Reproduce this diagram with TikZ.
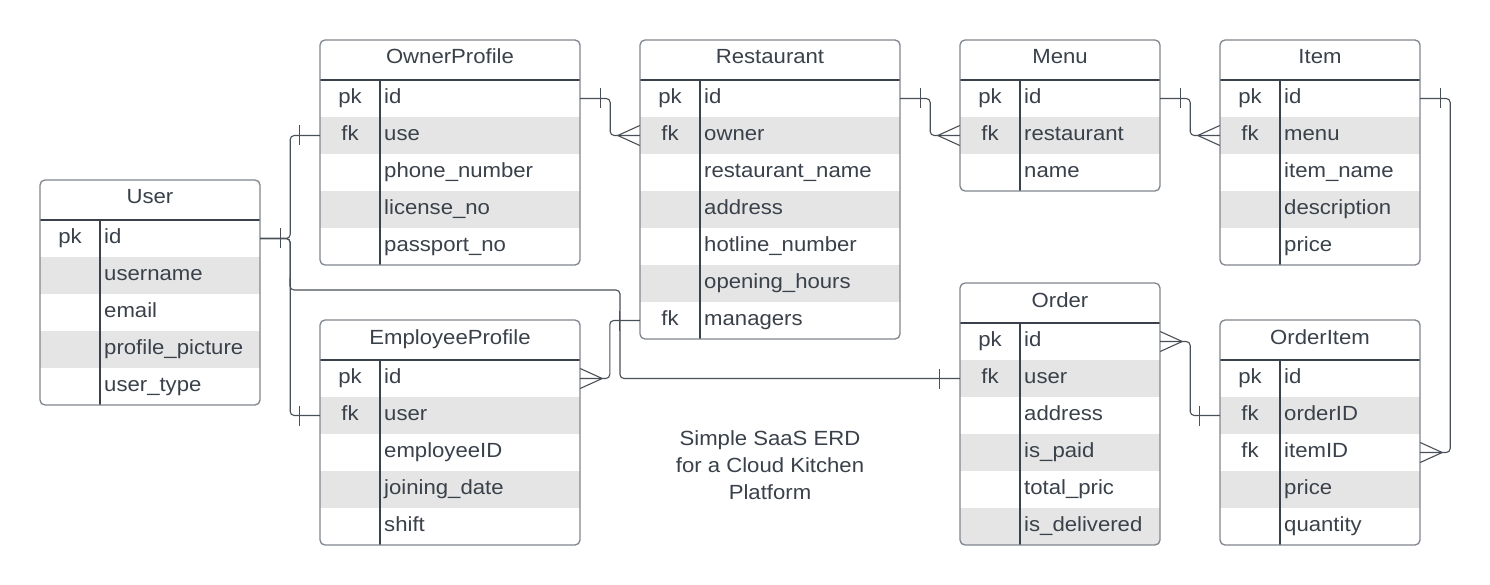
\documentclass[tikz,border=0pt]{standalone}
\usepackage{fontspec}
\setmainfont{Liberation Sans}[FakeStretch=1.08]
\usetikzlibrary{calc}
\definecolor{ink}{HTML}{3A414A}
\definecolor{rowgray}{HTML}{E5E5E5}
\definecolor{edgecol}{HTML}{80868E}
\definecolor{wire}{HTML}{4A5058}
\tikzset{
  txt/.style={inner sep=0pt, text=ink, font=\fontsize{20.5}{24}\selectfont},
  rowfill/.style={inner sep=0pt, draw=none, minimum height=37pt},
  shade1/.style={fill=white},
  shade0/.style={fill=rowgray},
  conn/.style={draw=wire, line width=1.1pt, rounded corners=4pt},
  tick/.style={draw=wire, line width=1.1pt},
  inner/.style={draw=ink, line width=1.2pt},
  outline/.style={draw=edgecol, line width=1.3pt, rounded corners=5pt},
}
\newcommand\erdtab[7]{%
  \pgfmathsetmacro\tabH{40+37*#5}
  \begin{scope}
    \clip[rounded corners=5pt] (#2,#3) rectangle ++(#4,\tabH);
    \fill[white] (#2,#3) rectangle ++(#4,\tabH);
    \foreach \k/\f [count=\i] in {#7} {
      \pgfmathsetmacro\yc{#3+40+(\i-0.5)*37}
      \pgfmathtruncatemacro\rp{mod(\i,2)}
      \node[rowfill, shade\rp, minimum width=#4] (#1-\i) at (#2+#4/2,\yc) {};
    }
  \end{scope}
  \foreach \k/\f [count=\i] in {#7} {
    \pgfmathsetmacro\yc{#3+40+(\i-0.5)*37+4.7}
    \node[txt, anchor=base] (#1-\i-k) at (#2+30,\yc) {\k};
    \node[txt, anchor=base west] (#1-\i-f) at (#2+64,\yc) {\f};
  }
  \node[txt, anchor=base] (#1) at (#2+#4/2,#3+24) {#6};
  \draw[inner] (#2,#3+40) -- ++(#4,0);
  \draw[inner] (#2+60,#3+40) -- (#2+60,#3+\tabH);
  \draw[outline] (#2,#3) rectangle ++(#4,\tabH);
}
\begin{document}
\begin{tikzpicture}[x=1pt,y=-1pt]
\useasboundingbox (0,0) rectangle (1490,585);
\fill[white] (0,0) rectangle (1490,585);

\erdtab{U}{40}{180}{220}{5}{User}{pk/id, /username, /email, /profile\_picture, /user\_type}
\erdtab{OP}{320}{40}{260}{5}{OwnerProfile}{pk/id, fk/use, /phone\_number, /license\_no, /passport\_no}
\erdtab{R}{640}{40}{260}{7}{Restaurant}{pk/id, fk/owner, /restaurant\_name, /address, /hotline\_number, /opening\_hours, fk/managers}
\erdtab{M}{960}{40}{200}{3}{Menu}{pk/id, fk/restaurant, /name}
\erdtab{I}{1220}{40}{200}{5}{Item}{pk/id, fk/menu, /item\_name, /description, /price}
\erdtab{E}{320}{320}{260}{5}{EmployeeProfile}{pk/id, fk/user, /employeeID, /joining\_date, /shift}
\erdtab{OR}{960}{283}{200}{6}{Order}{pk/id, fk/user, /address, /is\_paid, /total\_pric, /is\_delivered}
\erdtab{OI}{1220}{320}{200}{5}{OrderItem}{pk/id, fk/orderID, fk/itemID, /price, /quantity}

\node[txt, anchor=base] (t1) at (770,445) {Simple SaaS ERD};
\node[txt, anchor=base] (t2) at (770,472) {for a Cloud Kitchen};
\node[txt, anchor=base] (t3) at (770,499) {Platform};

% User -> OwnerProfile / EmployeeProfile / Order
\coordinate (j1) at (290,290);
\coordinate (j2) at (620,290);
\draw[conn] (U-1.east) -- ++(30,0) |- (OP-2.west);
\draw[conn] (U-1.east) -- ++(30,0) |- (E-2.west);
\draw[conn] (U-1.east) -- ++(30,0) -- (j1) -- (j2) |- (OR-2.west);
\draw[tick] ($(U-1.east)+(20,-10)$) -- ++(0,20);
\draw[tick] ($(OP-2.west)+(-20,-10)$) -- ++(0,20);
\draw[tick] ($(E-2.west)+(-20,-10)$) -- ++(0,20);
\draw[tick] ($(OR-2.west)+(-20,-10)$) -- ++(0,20);

% OwnerProfile -> Restaurant
\draw[conn] (OP-1.east) -- ++(30,0) |- (R-2.west);
\draw[tick] ($(OP-1.east)+(20,-10)$) -- ++(0,20);
\draw[tick] ($(R-2.west)+(0,-10)$) -- ++(-22,10) -- ++(22,10);

% Restaurant -> Menu
\draw[conn] (R-1.east) -- ++(30,0) |- (M-2.west);
\draw[tick] ($(R-1.east)+(20,-10)$) -- ++(0,20);
\draw[tick] ($(M-2.west)+(0,-10)$) -- ++(-22,10) -- ++(22,10);

% Menu -> Item
\draw[conn] (M-1.east) -- ++(30,0) |- (I-2.west);
\draw[tick] ($(M-1.east)+(20,-10)$) -- ++(0,20);
\draw[tick] ($(I-2.west)+(0,-10)$) -- ++(-22,10) -- ++(22,10);

% Item -> OrderItem
\draw[conn] (I-1.east) -- ++(30,0) |- (OI-3.east);
\draw[tick] ($(I-1.east)+(20,-10)$) -- ++(0,20);
\draw[tick] ($(OI-3.east)+(0,-10)$) -- ++(22,10) -- ++(-22,10);

% Order -> OrderItem
\draw[conn] (OR-1.east) -- ++(30,0) |- (OI-2.west);
\draw[tick] ($(OR-1.east)+(0,-10)$) -- ++(22,10) -- ++(-22,10);
\draw[tick] ($(OI-2.west)+(-20,-10)$) -- ++(0,20);

% Restaurant managers -> EmployeeProfile
\draw[conn] (R-7.west) -- ++(-30,0) |- (E-1.east);
\draw[tick] ($(R-7.west)+(-20,-10)$) -- ++(0,20);
\draw[tick] ($(E-1.east)+(0,-10)$) -- ++(22,10) -- ++(-22,10);
\end{tikzpicture}
\end{document}
